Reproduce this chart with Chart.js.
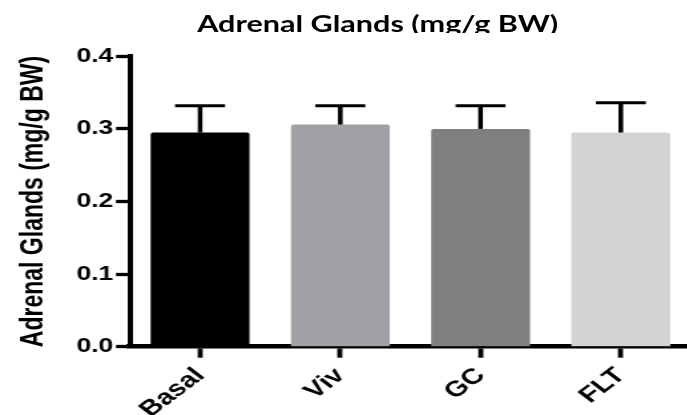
<!DOCTYPE html>
<html>
<head>
<meta charset="utf-8">
<script src="https://cdn.jsdelivr.net/npm/chart.js@4.4.0/dist/chart.umd.min.js"></script>
<style>
  html, body { margin: 0; padding: 0; background: #fff; overflow: hidden; }
  #wrap { width: 687px; height: 415px; overflow: hidden; position: relative; }
  /* the source picture is stretched sideways, so draw narrow and stretch */
  #inner { position: absolute; left: 0; top: 0; width: 524px; height: 415px;
           transform: scaleX(1.33); transform-origin: 0 0; }
  #title { position: absolute; left: 84px; width: 400px; top: 9px; height: 24px;
           line-height: 23px; overflow: hidden; text-align: center; white-space: nowrap;
           font: bold 23px Lato, "Open Sans", sans-serif; color: #000; }
</style>
</head>
<body>
<div id="wrap">
  <div id="inner">
    <canvas id="chart" width="524" height="415"></canvas>
    <div id="title">Adrenal Glands (mg/g BW)</div>
  </div>
</div>
<script>
// values
const groups = ['Basal', 'Viv', 'GC', 'FLT'];
const means = [0.295, 0.306, 0.300, 0.295];
const sems = [0.037, 0.026, 0.032, 0.041];
const yMin = 0;
const yMax = 0.4;
const yStep = 0.1;
const yTitle = 'Adrenal Glands (mg/g BW)';

Chart.defaults.font.family = '"Liberation Sans", Arial, sans-serif';
Chart.defaults.color = '#000';

// upper error bars (mean + SEM) with a cap
const errorBars = {
  id: 'errorBars',
  afterDatasetsDraw(chart) {
    const ctx = chart.ctx;
    const y = chart.scales.y;
    const meta = chart.getDatasetMeta(0);
    ctx.save();
    ctx.strokeStyle = '#000';
    meta.data.forEach((bar, i) => {
      const base = y.getPixelForValue(means[i]);
      const top = y.getPixelForValue(means[i] + sems[i]);
      ctx.lineWidth = 3.5;
      ctx.beginPath();
      ctx.moveTo(bar.x, base);
      ctx.lineTo(bar.x, top);
      ctx.stroke();
      ctx.lineWidth = 3;
      ctx.beginPath();
      ctx.moveTo(bar.x - 18.8, top);
      ctx.lineTo(bar.x + 18.8, top);
      ctx.stroke();
    });
    ctx.restore();
  }
};

new Chart(document.getElementById('chart'), {
  type: 'bar',
  data: {
    labels: groups,
    datasets: [{
      data: means,
      backgroundColor: ['#000000', '#a2a1a6', '#7f7f7f', '#d3d3d3'],
      borderWidth: 0,
      borderRadius: 2,
      barPercentage: 0.705,
      categoryPercentage: 1
    }]
  },
  options: {
    responsive: false,
    animation: false,
    layout: { padding: { top: 56.3, right: 4.5, bottom: 0, left: 0 } },
    plugins: { legend: { display: false }, tooltip: { enabled: false } },
    scales: {
      x: {
        offset: true,
        afterFit(scale) { scale.height = 68.3; },
        border: { display: true, color: '#000', width: 4.5 },
        grid: { display: true, drawOnChartArea: false, offset: false,
                tickLength: 11, tickWidth: 3.8, tickColor: '#000' },
        ticks: { minRotation: 45, maxRotation: 45, padding: 5,
                 font: { size: 22, weight: 'bold' } }
      },
      y: {
        min: yMin,
        max: yMax,
        afterFit(scale) { scale.width = 97.7; },
        border: { display: true, color: '#000', width: 4 },
        grid: { display: true, drawOnChartArea: false,
                tickLength: 10.5, tickWidth: 3.3, tickColor: '#000' },
        ticks: { stepSize: yStep, padding: 2,
                 font: { size: 20, weight: 'bold' },
                 callback: v => v.toFixed(1) },
        title: { display: true, text: yTitle, padding: { top: 12, bottom: 0 },
                 font: { size: 23, weight: 'bold' } }
      }
    }
  },
  plugins: [errorBars]
});
</script>
</body>
</html>
